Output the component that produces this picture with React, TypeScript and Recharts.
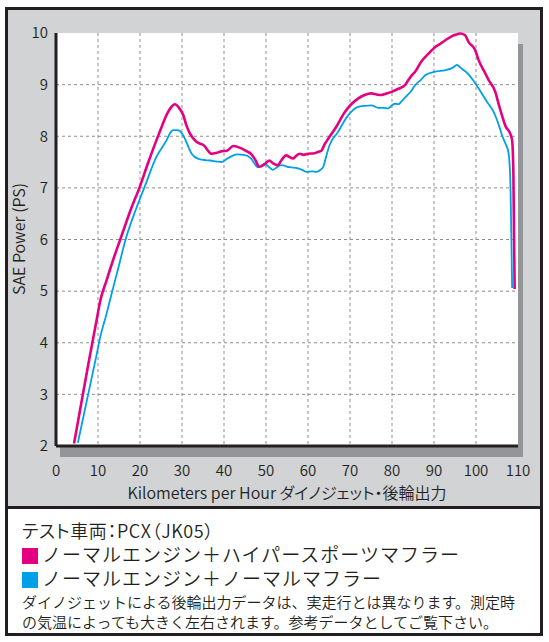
import { LineChart, Line, XAxis, YAxis, CartesianGrid } from "recharts";

// km/h and PS values, one pair of arrays per muffler
const hyperSpeed = [
  4.3, 6, 8, 9.7, 10.5, 12, 14, 15.3, 17.9, 19.9, 22, 23.9, 25, 26.3, 27.3, 28.3,
  29.3, 30.3, 31.1, 31.9, 33.5, 35.1, 37.1, 38.3, 39.5, 40.7, 42.2, 44, 45.6, 46.4,
  47.4, 48.4, 49.6, 50.8, 51.6, 52.8, 53.8, 54.8, 55.6, 56.4, 57.2, 58, 59, 60,
  61.5, 62.5, 63.2, 64, 64.8, 66.7, 68.7, 70.3, 71.9, 73.5, 75.1, 76.3, 77.5, 78.7,
  79.9, 81.5, 83.1, 83.9, 84.7, 85.5, 87, 88.7, 90.3, 91.1, 92.7, 94.3, 95.3, 96.2,
  97.4, 98.2, 99.8, 100.6, 102.2, 103, 104.6, 105.4, 106.2, 107, 108.2, 108.6,
  108.9, 109.2,
];
const hyperPower = [
  2.05, 2.82, 3.72, 4.45, 4.8, 5.2, 5.7, 6.0, 6.6, 7.01, 7.5, 7.92, 8.15, 8.41,
  8.55, 8.62, 8.55, 8.41, 8.2, 8.05, 7.89, 7.83, 7.66, 7.68, 7.71, 7.72, 7.81, 7.77,
  7.7, 7.66, 7.55, 7.41, 7.45, 7.53, 7.48, 7.44, 7.55, 7.63, 7.6, 7.57, 7.62, 7.66,
  7.64, 7.66, 7.67, 7.7, 7.72, 7.85, 7.95, 8.18, 8.46, 8.62, 8.73, 8.8, 8.83, 8.81,
  8.8, 8.83, 8.86, 8.92, 8.99, 9.09, 9.18, 9.25, 9.45, 9.6, 9.73, 9.77, 9.86, 9.94,
  9.97, 9.99, 9.96, 9.83, 9.67, 9.48, 9.22, 9.09, 8.86, 8.62, 8.4, 8.2, 8.04, 7.92,
  7.3, 5.04,
];

const normalSpeed = [
  5.2, 7, 9.7, 10.5, 12, 13.3, 15, 16.5, 19.1, 21.1, 23.9, 26.3, 27.3, 27.9, 28.8,
  29.5, 30.7, 31.5, 32.3, 33.9, 35.3, 36.7, 38.3, 39.5, 40.5, 41.5, 43.1, 44.8,
  46.4, 47.2, 48, 48.8, 49.6, 50.5, 51.6, 52.6, 53.6, 55.6, 57.6, 58.6, 59.6, 61,
  62, 63, 63.6, 64.3, 65.1, 67.1, 69.6, 71.9, 73.5, 75.1, 76.7, 78, 79.1, 80, 80.7,
  81.5, 82.3, 83.5, 84.7, 85.5, 87, 87.9, 90.3, 92.7, 94.3, 95.5, 96.3, 97.1, 98,
  99, 100.6, 101.6, 102.6, 104.2, 105.2, 106.2, 107.2, 107.7, 108.1, 108.6,
];
const normalPower = [
  2.06, 2.75, 3.78, 4.1, 4.55, 4.97, 5.5, 5.98, 6.6, 7.02, 7.6, 7.92, 8.08, 8.12,
  8.12, 8.1, 7.95, 7.8, 7.66, 7.56, 7.54, 7.53, 7.51, 7.5, 7.55, 7.6, 7.65, 7.64,
  7.57, 7.48, 7.4, 7.42, 7.47, 7.42, 7.35, 7.4, 7.44, 7.4, 7.38, 7.35, 7.31, 7.32,
  7.31, 7.35, 7.4, 7.6, 7.82, 8.08, 8.41, 8.57, 8.59, 8.6, 8.55, 8.55, 8.54, 8.6,
  8.63, 8.62, 8.68, 8.78, 8.89, 8.99, 9.1, 9.18, 9.25, 9.28, 9.32, 9.38, 9.33, 9.28,
  9.22, 9.12, 8.93, 8.8, 8.67, 8.47, 8.27, 8.02, 7.82, 7.7, 7.3, 5.06,
];

const xTicks = [0, 10, 20, 30, 40, 50, 60, 70, 80, 90, 100, 110];
const yTicks = [2, 3, 4, 5, 6, 7, 8, 9, 10];

const hyperData = hyperSpeed.map((s, i) => ({ speed: s, power: hyperPower[i] }));
const normalData = normalSpeed.map((s, i) => ({ speed: s, power: normalPower[i] }));

const FONT = '"Noto Sans CJK JP", "Noto Sans", sans-serif';
const WEIGHT = 350;
const INK = "#231f20";
const PINK = "#e4007f";
const CYAN = "#00a0e9";

const swatch = (color: string) => (
  <span
    style={{
      display: "inline-block",
      width: 16,
      height: 16,
      background: color,
      marginRight: 4,
      verticalAlign: "-2px",
    }}
  />
);

export default function App() {
  return (
    <div
      style={{
        position: "absolute",
        left: 0,
        top: 0,
        width: 549,
        height: 642,
        background: "#fff",
        fontFamily: FONT,
        fontWeight: WEIGHT,
        color: INK,
        overflow: "hidden",
      }}
    >
      {/* gray chart panel */}
      <div
        style={{
          position: "absolute",
          left: 5,
          top: 7,
          width: 532,
          height: 496,
          border: `3px solid ${INK}`,
          background: "#d1d3d4",
        }}
      />
      {/* drop shadow behind the plot */}
      <div
        style={{
          position: "absolute",
          left: 60,
          top: 44,
          width: 463,
          height: 413,
          background: "#939598",
        }}
      />
      <div style={{ position: "absolute", left: 0, top: 0 }}>
        <LineChart
          width={549}
          height={510}
          margin={{ top: 33, right: 31, left: 0, bottom: 34 }}
        >
          <CartesianGrid
            fill="#ffffff"
            stroke="#8f8f8f"
            strokeDasharray="3 3"
            verticalValues={[10, 20, 30, 40, 50, 60, 70, 80, 90, 100]}
            horizontalValues={[3, 4, 5, 6, 7, 8, 9]}
          />
          <XAxis
            dataKey="speed"
            type="number"
            domain={[0, 110]}
            ticks={xTicks}
            interval={0}
            height={30}
            tickLine={false}
            tickMargin={13}
            axisLine={{ stroke: INK, strokeWidth: 3 }}
            tick={{ fill: INK, fontSize: 15, fontFamily: FONT, fontWeight: WEIGHT }}
            allowDuplicatedCategory={false}
          />
          <YAxis
            dataKey="power"
            type="number"
            domain={[2, 10]}
            ticks={yTicks}
            interval={0}
            width={56}
            tickLine={false}
            axisLine={{ stroke: INK, strokeWidth: 3 }}
            tick={{ fill: INK, fontSize: 15, fontFamily: FONT, fontWeight: WEIGHT }}
          />
          <Line
            data={normalData}
            dataKey="power"
            type="monotone"
            stroke={CYAN}
            strokeWidth={1.8}
            dot={false}
            isAnimationActive={false}
          />
          <Line
            data={hyperData}
            dataKey="power"
            type="monotone"
            stroke={PINK}
            strokeWidth={2.6}
            dot={false}
            isAnimationActive={false}
          />
        </LineChart>
      </div>
      {/* axis titles */}
      <div
        style={{
          position: "absolute",
          left: 56,
          top: 482,
          width: 462,
          lineHeight: "20px",
          fontSize: 16,
          textAlign: "center",
          fontFeatureSettings: '"palt"',
        }}
      >
        Kilometers per Hour ダイノジェット・後輪出力
      </div>
      <div
        style={{
          position: "absolute",
          left: -188,
          top: 229,
          width: 412,
          height: 20,
          lineHeight: "20px",
          fontSize: 16,
          textAlign: "center",
          transform: "rotate(-90deg)",
        }}
      >
        SAE Power (PS)
      </div>
      {/* notes panel */}
      <div
        style={{
          position: "absolute",
          left: 5,
          top: 506,
          width: 518,
          height: 115,
          border: `3px solid ${INK}`,
          background: "#fff",
          padding: "9px 0 0 14px",
        }}
      >
        <div style={{ fontSize: 18, lineHeight: "24px", letterSpacing: 0.6, fontFeatureSettings: '"palt"' }}>
          テスト車両：PCX（JK05）
        </div>
        <div style={{ fontSize: 19, lineHeight: "24px", letterSpacing: 1 }}>
          {swatch(PINK)}ノーマルエンジン＋ハイパースポーツマフラー
        </div>
        <div style={{ fontSize: 19, lineHeight: "24px", letterSpacing: 1 }}>
          {swatch(CYAN)}ノーマルエンジン＋ノーマルマフラー
        </div>
        <div style={{ fontSize: 15, lineHeight: "20px", marginTop: 2 }}>
          ダイノジェットによる後輪出力データは、実走行とは異なります。測定時
        </div>
        <div style={{ fontSize: 15, lineHeight: "20px" }}>
          の気温によっても大きく左右されます。参考データとしてご覧下さい。
        </div>
      </div>
    </div>
  );
}
